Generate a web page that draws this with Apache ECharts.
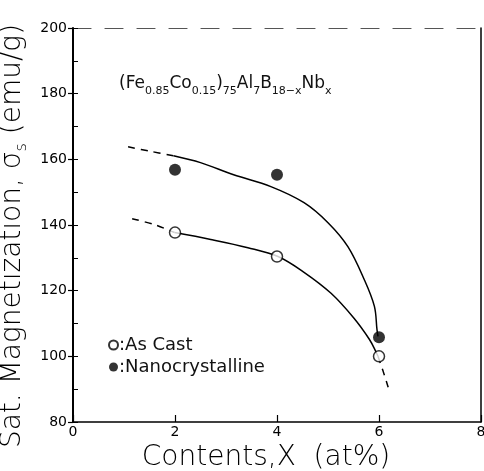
<!DOCTYPE html>
<html>
<head>
<meta charset="utf-8">
<script src="https://cdn.jsdelivr.net/npm/echarts@6/dist/echarts.min.js"></script>
<style>
  html, body { margin: 0; padding: 0; background: #fff; }
  #chart { width: 484px; height: 471px; }
</style>
</head>
<body>
<div id="chart"></div>
<script>
// Measured saturation magnetization vs Nb content
const contents = [2, 4, 6];
const asCast = [137.7, 130.4, 100.0];
const nanocrystalline = [156.8, 155.3, 105.8];

// Guide curves drawn through the measurements (x, sigma_s)
const nanoFitDashed = [[1.08, 163.8], [1.5, 162.5], [1.97, 161.1]];
const nanoFitSolid = [[1.97, 161.1], [2.5, 159.0], [3.15, 155.3], [3.88, 151.7], [4.53, 146.8],
  [5.0, 140.7], [5.39, 133.4], [5.71, 123.4], [5.91, 115.2], [5.96, 108.2], [5.98, 106.1]];
const castFitDashed = [[1.16, 141.9], [1.6, 140.1], [1.99, 137.7]];
const castFitSolid = [[1.99, 137.7], [2.7, 135.6], [3.43, 133.1], [4.02, 130.4], [4.53, 125.6],
  [5.06, 119.2], [5.51, 111.6], [5.81, 105.2], [5.94, 101.4], [5.98, 100.0]];
const castFitTail = [[5.98, 100.0], [6.08, 95.5], [6.18, 90.6]];

const xTicks = [0, 2, 4, 6, 8];
const yTicks = [80, 100, 120, 140, 160, 180, 200];

const FONT = '"DejaVu Sans", sans-serif';
const pair = (xs, ys) => xs.map((x, i) => [x, ys[i]]);

const curve = (data, dashed) => ({
  type: 'line', data, xAxisIndex: 0, yAxisIndex: 0,
  symbol: 'none', smooth: 0.35, silent: true,
  lineStyle: { color: '#000', width: 1.5, type: dashed ? [7, 6] : 'solid' },
  z: 2
});

const chart = echarts.init(document.getElementById('chart'));
chart.setOption({
  animation: false,
  backgroundColor: '#fff',
  grid: { left: 73, right: 3, top: 28, bottom: 49, containLabel: false, outerBoundsMode: 'none' },
  title: {
    left: 114, top: 66,
    text: '(Fe{s|0.85}Co{s|0.15}){s|75}Al{s|7}B{s|18−x}Nb{s|x}',
    textStyle: {
      fontFamily: FONT, fontSize: 17, fontWeight: 'normal', color: '#111',
      lineHeight: 26, verticalAlign: 'middle',
      rich: { s: { fontFamily: FONT, fontSize: 11, color: '#111', lineHeight: 26, verticalAlign: 'bottom' } }
    }
  },
  legend: {
    data: ['As Cast', 'Nanocrystalline'],
    orient: 'vertical', left: 103, top: 331, itemGap: 4,
    itemWidth: 9, itemHeight: 9, icon: 'circle',
    formatter: n => ':' + n,
    textStyle: { fontFamily: FONT, fontSize: 18, fontWeight: 'normal', color: '#111', padding: [0, 0, 0, -4] }
  },
  xAxis: [{
    type: 'value', min: 0, max: 8, interval: 2, position: 'bottom',
    name: 'Contents,X  (at%)', nameLocation: 'middle', nameGap: 12,
    nameTextStyle: { fontFamily: FONT, fontSize: 28, fontWeight: 200, color: '#000', padding: [0, 22, 0, 0] },
    axisLine: { lineStyle: { color: '#000', width: 1.5 } },
    axisTick: { inside: true, length: 7, lineStyle: { color: '#000', width: 1.2 } },
    axisLabel: { fontFamily: FONT, fontSize: 14, color: '#000', margin: 3,
      formatter: v => xTicks.includes(v) ? String(v) : '' },
    splitLine: { show: false }
  }, {
    type: 'value', min: 0, max: 8, position: 'top',
    axisLine: { lineStyle: { color: '#555', width: 1.2, type: [18, 14] } },
    axisTick: { show: false }, axisLabel: { show: false }, splitLine: { show: false }
  }],
  yAxis: [{
    type: 'value', min: 80, max: 200, interval: 20, position: 'left',
    name: 'Sat. Magnetization, σ{s|s} (emu/g)', nameLocation: 'middle', nameGap: 45, nameRotate: 90,
    nameTextStyle: { fontFamily: FONT, fontSize: 28, fontWeight: 200, color: '#000',
      lineHeight: 34, verticalAlign: 'middle', padding: [0, 22, 0, 0],
      rich: { s: { fontFamily: FONT, fontSize: 16, fontWeight: 200, color: '#000', verticalAlign: 'bottom', lineHeight: 34 } } },
    axisLine: { lineStyle: { color: '#000', width: 2 } },
    axisTick: { inside: false, length: 5, lineStyle: { color: '#000', width: 1.2 } },
    axisLabel: { fontFamily: FONT, fontSize: 14, color: '#000', margin: 6,
      formatter: v => yTicks.includes(v) ? String(v) : '' },
    splitLine: { show: false }
  }, {
    type: 'value', min: 80, max: 200, interval: 10, position: 'left',
    axisLine: { show: false },
    axisTick: { inside: true, length: 5, lineStyle: { color: '#000', width: 1 } },
    axisLabel: { show: false }, splitLine: { show: false }
  }, {
    type: 'value', min: 80, max: 200, position: 'right',
    axisLine: { show: true, lineStyle: { color: '#000', width: 1.5 } },
    axisTick: { show: false }, axisLabel: { show: false }, splitLine: { show: false }
  }],
  series: [
    curve(nanoFitDashed, true),
    curve(nanoFitSolid, false),
    curve(castFitDashed, true),
    curve(castFitSolid, false),
    curve(castFitTail, true),
    {
      name: 'As Cast', type: 'scatter', data: pair(contents, asCast),
      symbol: 'circle', symbolSize: 11,
      itemStyle: { color: '#fff', borderColor: '#000', borderWidth: 1.5 }, z: 5
    },
    {
      name: 'Nanocrystalline', type: 'scatter', data: pair(contents, nanocrystalline),
      symbol: 'circle', symbolSize: 12,
      itemStyle: { color: '#000', borderColor: '#000', borderWidth: 0 }, z: 5
    }
  ]
});
</script>
</body>
</html>
